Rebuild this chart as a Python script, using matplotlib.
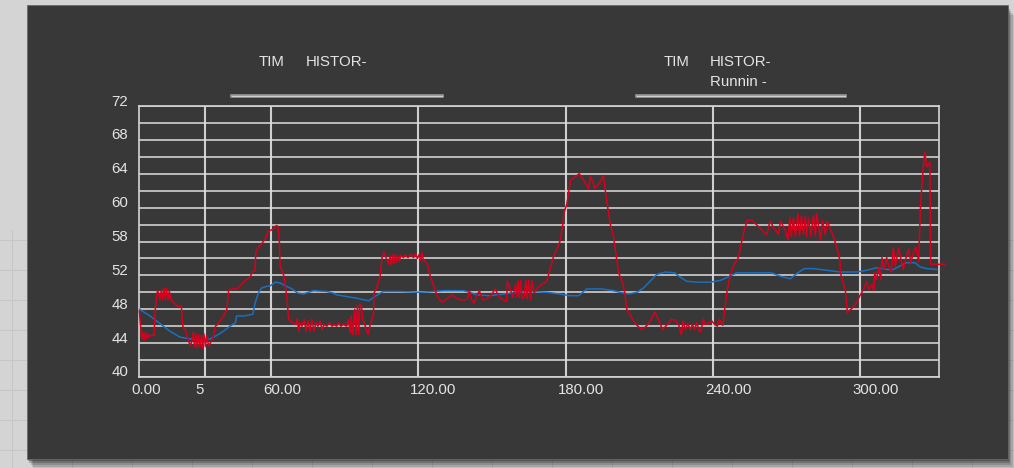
import matplotlib
matplotlib.use("Agg")
from matplotlib import pyplot as plt
from matplotlib.patches import Rectangle
from matplotlib.lines import Line2D
from matplotlib.transforms import ScaledTranslation
import numpy as np

# red trace (time, value)
red_x = [6.5, 7.5, 7.9, 8.4, 9.0, 9.5, 10.1, 10.6, 11.1, 11.9, 12.5, 13.0, 13.9, 14.4, 14.9, 15.5,
         16.0, 16.6, 17.1, 17.6, 18.2, 18.7, 19.3, 20.4, 21.5, 22.5, 23.6, 24.2, 25.2, 26.3, 27.2,
         28.0, 28.5, 29.0, 29.6, 30.1, 30.7, 31.2, 31.8, 32.3, 32.8, 33.4, 33.9, 34.7, 35.6, 36.6,
         37.5, 38.3, 39.6, 41.0, 42.1, 42.9, 44.2, 46.4, 48.0, 49.7, 51.3, 51.8, 52.4, 53.5, 54.0,
         55.1, 56.5, 57.8, 58.9, 60.5, 62.4, 63.0, 63.5, 63.8, 65.4, 66.5, 67.3, 68.9, 70.3, 70.8,
         71.4, 71.9, 72.7, 73.6, 74.4, 75.2, 76.0, 76.8, 77.6, 78.4, 79.2, 80.1, 80.9, 81.7, 82.8,
         83.9, 85.0, 85.8, 86.8, 87.7, 88.5, 89.6, 90.9, 91.7, 92.3, 92.8, 93.4, 94.2, 94.7, 95.3,
         95.8, 96.3, 96.9, 97.4, 98.5, 99.6, 100.4, 101.2, 101.8, 102.0, 103.1, 104.5, 105.3, 106.1,
         106.9, 107.5, 108.0, 108.6, 109.1, 109.6, 110.2, 110.7, 111.3, 111.8, 112.4, 112.9, 114.0,
         114.8, 115.9, 117.0, 118.1, 118.9, 119.7, 120.5, 121.0, 121.6, 122.1, 122.9, 124.0, 124.8,
         125.9, 126.7, 127.5, 128.6, 129.7, 131.6, 133.8, 135.7, 137.3, 139.1, 140.0, 140.8, 141.7,
         142.7, 143.8, 144.9, 146.3, 147.6, 149.3, 151.4, 152.8, 154.1, 156.0, 156.3, 157.4, 158.5,
         159.6, 160.1, 160.6, 161.2, 161.7, 162.3, 163.1, 163.9, 164.4, 165.0, 165.8, 166.3, 167.2,
         168.2, 170.1, 172.3, 173.7, 175.0, 176.4, 177.7, 178.6, 179.4, 180.5, 181.3, 182.1, 183.7,
         185.6, 187.2, 189.4, 190.0, 191.3, 191.9, 193.8, 195.4, 196.7, 198.1, 199.5, 200.8, 201.6,
         203.3, 204.3, 204.9, 206.2, 208.1, 210.8, 212.5, 214.1, 215.5, 216.3, 217.6, 219.5, 221.4,
         223.1, 224.7, 226.0, 227.1, 227.9, 228.7, 229.8, 230.7, 231.7, 232.5, 233.4, 234.2, 235.0,
         236.1, 236.9, 238.2, 239.6, 240.7, 241.8, 242.6, 244.0, 244.8, 245.6, 246.9, 248.3, 250.3,
         251.7, 253.0, 254.0, 255.9, 259.1, 261.9, 263.2, 264.8, 266.5, 267.6, 269.5, 270.5, 271.3,
         271.9, 272.7, 273.5, 274.6, 275.2, 276.0, 276.8, 277.6, 278.1, 278.9, 279.8, 280.9, 281.7,
         282.2, 283.0, 283.8, 284.6, 285.7, 286.5, 289.0, 290.6, 291.7, 291.8, 292.8, 293.9, 294.7,
         296.9, 298.5, 299.8, 301.2, 302.6, 303.4, 304.7, 305.5, 305.8, 306.6, 307.4, 308.3, 308.8,
         309.6, 310.7, 311.5, 312.6, 313.4, 314.2, 315.6, 316.7, 317.5, 318.0, 319.7, 320.5, 321.8,
         322.6, 323.7, 324.5, 325.4, 326.2, 327.0, 328.3, 328.6, 334.4]
red_y = [47.8, 44.5, 45.3, 44.3, 45.3, 44.5, 45.1, 44.7, 44.9, 44.9, 44.9, 48.0, 50.2, 49.9, 49.2, 50.3,
         49.1, 50.5, 49.1, 50.5, 49.1, 50.2, 49.2, 48.8, 48.5, 48.3, 48.4, 46.0, 45.6, 44.5, 43.7,
         44.3, 45.3, 43.5, 45.1, 43.4, 45.0, 43.6, 44.9, 43.4, 45.1, 43.6, 44.9, 43.7, 44.1, 44.7,
         46.0, 46.2, 46.7, 47.3, 48.0, 50.3, 50.4, 50.4, 50.9, 51.4, 51.7, 51.9, 52.4, 52.5, 54.9,
         55.3, 55.8, 56.3, 57.2, 57.4, 57.9, 57.7, 56.2, 53.1, 51.9, 49.6, 46.8, 46.4, 46.2, 46.9,
         45.4, 46.4, 46.0, 46.8, 45.4, 46.6, 45.4, 46.8, 45.4, 46.4, 46.0, 46.6, 45.6, 46.2, 46.0,
         46.4, 46.0, 46.2, 46.0, 46.4, 46.0, 46.2, 46.0, 46.8, 45.2, 47.2, 45.0, 48.0, 45.0, 48.5,
         45.0, 48.6, 48.4, 46.8, 46.0, 45.0, 46.1, 46.8, 47.4, 49.9, 50.5, 51.9, 54.1, 54.7,
         54.1, 53.8, 53.3, 54.3, 53.2, 54.4, 53.4, 54.5, 53.6, 54.3, 53.7, 54.4, 54.1,
         54.4, 54.1, 54.5, 54.1, 54.6, 54.0, 54.5, 53.7, 54.7, 53.8, 53.7, 53.1, 52.1,
         51.1, 50.4, 49.8, 49.2, 48.8, 49.2, 49.7, 49.3, 49.1, 49.1, 49.2, 50.2, 49.2,
         48.7, 49.5, 50.2, 49.1, 49.2, 49.5, 50.4, 49.5, 49.2, 48.9, 51.3, 50.5, 49.4,
         50.9, 49.4, 51.4, 49.4, 51.4, 49.3, 49.4, 51.4, 49.2, 51.4, 49.1, 51.4, 49.9,
         50.4, 50.9, 51.3, 52.7, 54.1, 55.1, 56.0, 57.4, 59.4, 60.4, 61.9, 63.3, 63.6,
         64.0, 63.3, 62.2, 63.7, 62.9, 62.3, 62.9, 63.8, 60.9, 58.2, 56.6, 53.9, 52.3,
         51.1, 49.6, 48.0, 47.4, 46.4, 45.6, 45.9, 46.4, 47.2, 47.7, 46.9, 45.6, 46.2,
         46.8, 46.7, 46.2, 45.0, 46.6, 45.6, 46.3, 45.6, 46.2, 45.6, 46.4, 45.6, 45.3,
         46.8, 46.2, 46.4, 46.6, 46.2, 46.0, 46.8, 46.1, 48.0, 49.9, 51.9, 53.1, 54.1,
         56.0, 57.6, 58.5, 58.5, 57.6, 56.8, 58.4, 57.6, 56.9, 58.4, 57.2, 56.2, 58.8,
         56.6, 58.8, 56.6, 59.3, 56.6, 59.0, 56.9, 59.0, 56.6, 58.8, 56.6, 59.1, 56.6,
         59.3, 57.8, 56.2, 58.5, 56.8, 58.4, 56.6, 55.1, 53.7, 52.4, 51.3, 50.2, 47.6,
         48.2, 48.8, 49.6, 50.3, 51.3, 50.3, 50.9, 50.2, 52.4, 51.5, 52.9, 51.5, 54.1,
         52.7, 54.1, 53.1, 52.4, 55.3, 53.1, 55.3, 53.6, 52.7, 53.5, 55.1, 53.5, 54.9,
         55.3, 53.6, 60.4, 64.1, 66.6, 64.8, 65.4, 53.3, 53.3]

# blue trace (time, value)
blue_x = [6.5, 8.2, 10.9, 13.6, 16.3, 19.0, 23.1, 27.2, 31.2, 35.3, 38.0, 40.7, 43.4, 45.6, 46.1,
          48.9, 52.7, 53.7, 55.1, 56.2, 58.4, 60.0, 61.9, 63.8, 66.5, 68.7, 71.1, 73.3, 77.4, 82.8,
          85.5, 86.8, 90.9, 95.0, 99.9, 101.8, 105.8, 112.6, 120.8, 126.2, 130.3, 138.4, 141.1,
          143.8, 149.2, 154.7, 160.1, 165.5, 172.3, 177.7, 181.8, 185.3, 188.6, 191.3, 194.6,
          199.5, 202.2, 205.7, 209.0, 211.7, 214.4, 217.1, 220.6, 224.4, 226.6, 229.3, 233.4,
          238.8, 242.9, 246.9, 249.6, 255.1, 263.9, 267.3, 271.4, 274.1, 277.1, 280.9, 286.3,
          291.7, 298.5, 302.6, 306.6, 310.7, 313.4, 316.1, 318.8, 322.2, 324.3, 327.0, 331.0]
blue_y = [48.0, 47.7, 47.2, 46.6, 46.0, 45.4, 44.7, 44.5, 44.4, 44.5, 44.9, 45.4, 46.0, 46.4, 47.2,
          47.2, 47.4, 48.8, 50.0, 50.5, 50.7, 50.8, 51.2, 51.1, 50.7, 50.4, 49.9, 49.8, 50.2, 50.1,
          49.9, 49.7, 49.5, 49.3, 49.0, 49.4, 50.1, 50.1, 50.0, 50.1, 50.2, 50.2, 50.0,
          49.7, 49.6, 49.8, 50.0, 50.1, 50.0, 49.8, 49.6, 49.6, 50.4, 50.4, 50.4,
          50.2, 50.0, 49.8, 50.0, 50.5, 51.3, 52.1, 52.4, 52.3, 51.8, 51.3, 51.2,
          51.2, 51.4, 51.9, 52.3, 52.3, 52.3, 51.9, 51.6, 52.2, 52.8, 52.8, 52.6,
          52.4, 52.4, 52.6, 52.9, 52.7, 52.7, 53.1, 53.5, 53.5, 53.0, 52.8, 52.7]

x_labels = ["0.00", "5", "60.00", "120.00", "180.00", "240.00", "300.00"]
y_labels = ["72", "68", "64", "60", "58", "52", "48", "44", "40"]
y_label_values = [72, 68, 64, 60, 56, 52, 48, 44, 40]
titles = ["TIM", "HISTOR-", "TIM", "HISTOR-", "Runnin -"]

# layout (the labels sit off the grid lines in the original)
X_GRID = [33.3, 60, 120, 180, 240, 300]
X_LABEL_POS = [9.1, 31.2, 64.5, 126.2, 186.3, 246.2, 306.2]
Y_LABEL_LIFT = 6  # pixels

W, H = 1014, 468
PANEL = "#383838"
TEXT = "#e4e4e4"
FONT = ["Liberation Sans", "DejaVu Sans"]
plt.rcParams["font.family"] = FONT


def fx(x):
    return x / W


def fy(y):
    return 1 - y / H


fig = plt.figure(figsize=(W / 100, H / 100), dpi=100)
fig.patch.set_facecolor("#d4d4d4")

# faint graph paper behind the panel
for gy in range(240, 468, 30):
    fig.add_artist(Line2D([0, 1], [fy(gy), fy(gy)], color="#c6c6c6", lw=0.8, zorder=0))
for gx in range(12, 1014, 60):
    fig.add_artist(Line2D([fx(gx), fx(gx)], [0, fy(230)], color="#c6c6c6", lw=0.8, zorder=0))

# shadow + panel
for d, a in [(10, 0.10), (8, 0.12), (6, 0.15), (4, 0.2), (2, 0.25)]:
    fig.add_artist(Rectangle((fx(27 + d * 0.6), fy(458.7 + d)), fx(980.7), 453.7 / H,
                             facecolor="black", alpha=a, edgecolor="none", zorder=1))
fig.add_artist(Rectangle((fx(27), fy(458.7)), fx(980.7), 453.7 / H,
                         facecolor=PANEL, edgecolor="#6a6a6a", lw=0.6, zorder=2))

ax = fig.add_axes([fx(139.3), fy(377), fx(939 - 139.3), (377 - 106) / H])
ax.set_zorder(3)
ax.set_facecolor(PANEL)

ax.set_xticks(X_GRID, minor=True)
ax.set_yticks(np.arange(42, 72, 2), minor=True)
ax.set_xticks(X_LABEL_POS, labels=x_labels)
ax.set_yticks(y_label_values, labels=y_labels)
ax.set_xlim(6.5, 332)
ax.set_ylim(40, 72)

ax.xaxis.grid(True, which="minor", color="#cfcfcf", lw=1.5)
ax.xaxis.grid(False, which="major")
ax.yaxis.grid(True, which="both", color="#dedede", lw=1.1)

ax.tick_params(which="both", length=0, colors=TEXT, labelsize=10.8)
ax.tick_params(axis="x", pad=4)
ax.tick_params(axis="y", pad=8)
lift = ScaledTranslation(0, Y_LABEL_LIFT / 100, fig.dpi_scale_trans)
for lab in ax.get_yticklabels():
    lab.set_transform(lab.get_transform() + lift)
for s in ax.spines.values():
    s.set_color("#d6d6d6")
    s.set_linewidth(1.2)

ax.plot(blue_x, blue_y, color="#1a6fc0", lw=1.1, zorder=3)
ax.plot(red_x, red_y, color="#d8001c", lw=1.1, zorder=4, clip_on=False)

# header texts and double rules
title_pos = [(259, 62), (306, 62), (664, 62), (709.6, 62), (709.6, 81.7)]
for t, (x, y) in zip(titles, title_pos):
    fig.text(fx(x), fy(y), t, color=TEXT, fontsize=10.8, ha="left", va="center", zorder=5)
for x0, x1 in [(232, 441.7), (637, 845.4)]:
    fig.add_artist(Line2D([fx(x0), fx(x1)], [fy(95.7), fy(95.7)], color="#9a9a9a", lw=2.6, zorder=5))
    fig.add_artist(Line2D([fx(x0), fx(x1)], [fy(95.7), fy(95.7)], color="#cfcfcf", lw=0.8, zorder=6))

fig.savefig("out.png", dpi=100, facecolor=fig.get_facecolor())
